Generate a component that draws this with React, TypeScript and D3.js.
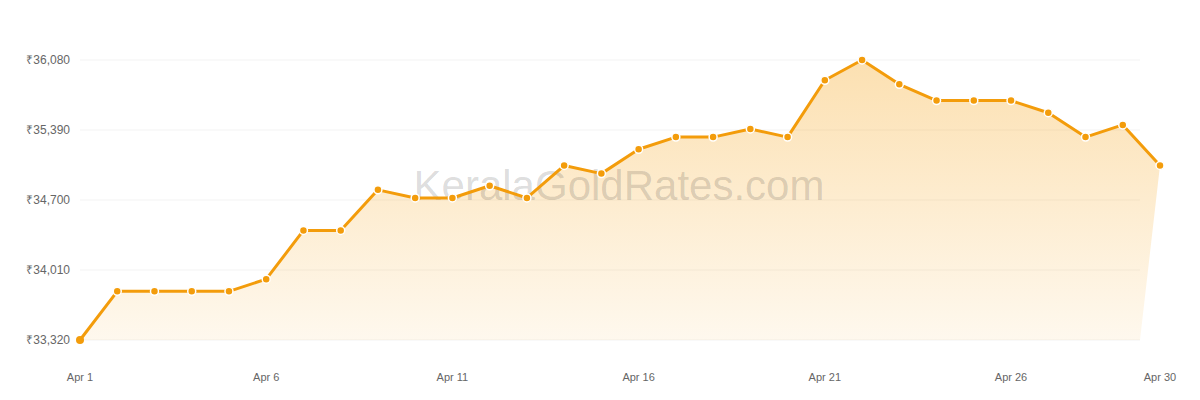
import React, {useEffect, useRef} from 'react';
import * as d3 from 'd3';

const days = d3.range(1, 31);
const rates = [
    33320, 33800, 33800, 33800, 33800, 33920, 34400, 34400, 34800, 34720,
    34720, 34840, 34720, 35040, 34960, 35200, 35320, 35320, 35400, 35320,
    35880, 36080, 35840, 35680, 35680, 35680, 35560, 35320, 35440, 35040
];
const yTicks = [33320, 34010, 34700, 35390, 36080];
const xTickDays = [1, 6, 11, 16, 21, 26, 30];

const App: React.FC = () => {
    const svgRef = useRef<SVGSVGElement | null>(null);

    useEffect(() => {
        const svg = d3.select(svgRef.current);
        svg.selectAll('*').remove();

        const width = 1200;
        const height = 400;
        const left = 80;
        const gridRight = 1140;

        const x = d3.scaleLinear().domain([1, 30]).range([left, 1160]);
        const y = d3.scaleLinear().domain([33320, 36080]).range([340, 60]);

        svg.attr('width', width).attr('height', height)
            .style('display', 'block')
            .style('position', 'absolute')
            .style('left', '0px')
            .style('top', '0px')
            .style('font-family', '"Liberation Sans", Arial, sans-serif');

        const defs = svg.append('defs');
        const grad = defs.append('linearGradient')
            .attr('id', 'areaFill')
            .attr('gradientUnits', 'userSpaceOnUse')
            .attr('x1', 0).attr('x2', 0)
            .attr('y1', y(36080)).attr('y2', y(33320));
        grad.append('stop').attr('offset', '0%').attr('stop-color', '#f59e0b').attr('stop-opacity', 0.32);
        grad.append('stop').attr('offset', '100%').attr('stop-color', '#f59e0b').attr('stop-opacity', 0.07);

        // grid
        svg.append('g')
            .selectAll('line')
            .data(yTicks)
            .enter().append('line')
            .attr('x1', left)
            .attr('x2', gridRight)
            .attr('y1', d => y(d))
            .attr('y2', d => y(d))
            .attr('stroke', '#f3f3f3')
            .attr('stroke-width', 1);

        svg.append('g')
            .selectAll('text')
            .data(yTicks)
            .enter().append('text')
            .attr('x', 70)
            .attr('y', d => y(d))
            .attr('dy', '0.35em')
            .attr('text-anchor', 'end')
            .attr('font-size', '12px')
            .attr('fill', '#666')
            .text(d => '₹' + d3.format(',')(d));

        svg.append('g')
            .selectAll('text')
            .data(xTickDays)
            .enter().append('text')
            .attr('x', d => x(d))
            .attr('y', 381)
            .attr('text-anchor', 'middle')
            .attr('font-size', '11px')
            .attr('fill', '#666')
            .text(d => 'Apr ' + d);

        // area (bottom edge stops at the plot edge)
        const pts = days.map((d, i) => [x(d), y(rates[i])]);
        const areaPts = [...pts, [gridRight, y(33320)], [left, y(33320)]];
        svg.append('path')
            .attr('d', d3.line()(areaPts) + 'Z')
            .attr('fill', 'url(#areaFill)');

        // watermark
        svg.append('text')
            .attr('x', 619)
            .attr('y', 200)
            .attr('text-anchor', 'middle')
            .attr('font-size', '42px')
            .attr('fill', 'rgba(0,0,0,0.15)')
            .text('KeralaGoldRates.com');

        svg.append('path')
            .attr('d', d3.line()(pts))
            .attr('fill', 'none')
            .attr('stroke', '#f39c0b')
            .attr('stroke-width', 3)
            .attr('stroke-linejoin', 'round');

        svg.append('g')
            .selectAll('circle')
            .data(days)
            .enter().append('circle')
            .attr('cx', d => x(d))
            .attr('cy', (d, i) => y(rates[i]))
            .attr('r', 4)
            .attr('fill', '#f39c0b')
            .attr('stroke', (d, i) => i === 0 ? 'none' : '#fff')
            .attr('stroke-width', 1.5);
    }, []);

    return <svg ref={svgRef}/>;
};

export default App;
